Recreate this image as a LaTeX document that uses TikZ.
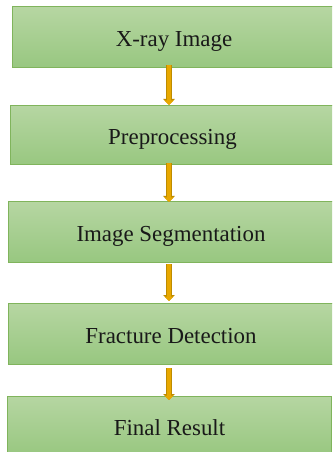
\documentclass[tikz,border=0pt]{standalone}
\usepackage{fontspec}
\setmainfont{Liberation Serif}
\usetikzlibrary{arrows.meta,calc}
\definecolor{boxtop}{RGB}{182,214,162}
\definecolor{boxbot}{RGB}{152,199,128}
\definecolor{boxline}{RGB}{128,180,92}
\definecolor{goldfill}{RGB}{232,168,0}
\definecolor{goldline}{RGB}{190,140,0}
\definecolor{txt}{RGB}{25,25,25}
\tikzset{
  stepbox/.style={draw=boxline, line width=1bp, top color=boxtop, bottom color=boxbot,
    inner sep=0pt, outer sep=0pt, text=txt,
    font=\fontsize{23}{27}\selectfont, text height=21bp, text depth=2bp},
  flowarrow/.style={line width=4.5bp, draw=goldfill, -{Triangle[width=9bp,length=4.5bp]},
    preaction={draw=goldline, line width=6.5bp, -{Triangle[width=11.5bp,length=6bp]}}}
}
\begin{document}
\begin{tikzpicture}[x=1bp,y=-1bp]
\clip (0,0) rectangle (332,452);
\fill[white] (0,0) rectangle (332,452);
\node[stepbox, minimum width=322bp, minimum height=61bp] (b1) at (174,37.5) {X-ray Image};
\node[stepbox, minimum width=323bp, minimum height=59bp] (b2) at (172.5,135.5) {Preprocessing};
\node[stepbox, minimum width=324bp, minimum height=60bp] (b3) at (171,232) {Image Segmentation};
\node[stepbox, minimum width=324bp, minimum height=61bp] (b4) at (171,333.5) {Fracture Detection};
\node[stepbox, minimum width=323bp, minimum height=59bp] (b5) at (169.5,425.5) {Final Result};
\coordinate (ax) at (169,0);
\draw[flowarrow] ($(b1.south -| ax)+(0,-3)$) -- ($(b2.north -| ax)+(0,-1)$);
\draw[flowarrow] ($(b2.south -| ax)+(0,-2)$) -- ($(b3.north -| ax)+(0,0)$);
\draw[flowarrow] ($(b3.south -| ax)+(0,2)$) -- ($(b4.north -| ax)+(0,-2)$);
\draw[flowarrow] ($(b4.south -| ax)+(0,4)$) -- ($(b5.north -| ax)+(0,4)$);
\end{tikzpicture}
\end{document}
